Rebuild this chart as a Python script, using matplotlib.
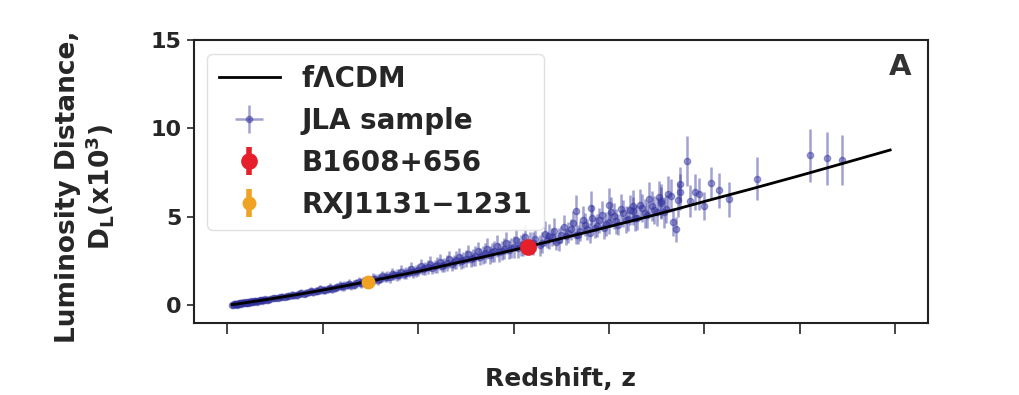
import matplotlib
matplotlib.use("Agg")
from matplotlib import pyplot as plt

# fLCDM curve (z, D_L in 10^3)
model_z = [0.01, 0.05, 0.10, 0.15, 0.20, 0.25, 0.30, 0.35, 0.40, 0.45, 0.50,
           0.55, 0.60, 0.65, 0.70, 0.75, 0.80, 0.85, 0.90, 0.95, 1.00, 1.05,
           1.10, 1.20, 1.30, 1.39]
model_d = [0.04, 0.20, 0.41, 0.63, 0.87, 1.12, 1.38, 1.65, 1.92, 2.22, 2.52,
           2.82, 3.13, 3.45, 3.78, 4.11, 4.45, 4.79, 5.14, 5.50, 5.87, 6.23,
           6.59, 7.33, 8.09, 8.78]

# JLA supernovae (estimated from the plot), first batch
jla_z = [0.010, 0.012, 0.014, 0.016, 0.018, 0.020, 0.022, 0.024, 0.026, 0.028,
         0.030, 0.033, 0.036, 0.040, 0.044, 0.048, 0.052, 0.056, 0.060, 0.065,
         0.070, 0.075, 0.080, 0.090, 0.100,
         0.11, 0.12, 0.13, 0.14, 0.15, 0.16, 0.17, 0.18, 0.19, 0.20,
         0.21, 0.22, 0.23, 0.24, 0.25, 0.26, 0.27, 0.28, 0.29, 0.30,
         0.31, 0.32, 0.33, 0.34, 0.35, 0.36, 0.37, 0.38, 0.39, 0.40,
         0.41, 0.42, 0.43, 0.44, 0.45, 0.46, 0.47, 0.48, 0.49, 0.50,
         0.51, 0.52, 0.53, 0.54, 0.55, 0.56, 0.57, 0.58, 0.59, 0.60,
         0.61, 0.62, 0.64, 0.66,
         0.67, 0.68, 0.69, 0.70, 0.71, 0.72, 0.73, 0.74, 0.75, 0.76,
         0.77, 0.78, 0.79, 0.80, 0.81, 0.82, 0.83, 0.84, 0.85, 0.86,
         0.87, 0.88, 0.89, 0.90, 0.91, 0.92, 0.93, 0.94, 0.95, 0.963,
         0.97, 0.98, 0.99, 1.00, 1.015, 1.03, 1.052, 1.111, 1.222, 1.257,
         1.289, 0.732, 0.763, 0.80, 0.85, 0.91, 0.935, 0.949]
jla_d = [0.04, 0.05, 0.06, 0.07, 0.07, 0.08, 0.09, 0.10, 0.11, 0.11,
         0.12, 0.14, 0.15, 0.16, 0.18, 0.20, 0.21, 0.23, 0.25, 0.26,
         0.29, 0.31, 0.33, 0.37, 0.41,
         0.46, 0.48, 0.55, 0.57, 0.65, 0.66, 0.73, 0.76, 0.84, 0.86,
         0.94, 0.95, 1.05, 1.07, 1.15, 1.14, 1.26, 1.27, 1.35, 1.40,
         1.47, 1.52, 1.60, 1.58, 1.72, 1.74, 1.80, 1.90, 1.88, 2.01,
         2.05, 2.15, 2.10, 2.30, 2.25, 2.40, 2.35, 2.55, 2.50, 2.65,
         2.62, 2.80, 2.75, 2.95, 2.85, 3.05, 3.00, 3.20, 3.15, 3.30,
         3.25, 3.45, 3.50, 3.55,
         3.70, 3.85, 3.60, 4.00, 3.90, 4.30, 3.95, 4.20, 4.55, 4.10,
         4.40, 4.80, 4.35, 4.70, 5.05, 4.55, 5.20, 4.90, 5.35, 4.95,
         5.50, 5.10, 5.60, 5.30, 5.80, 5.45, 6.20, 4.30, 6.84, 8.16,
         5.90, 6.40, 6.28, 5.60, 6.94, 6.50, 6.00, 7.16, 8.48, 8.30,
         8.20, 5.33, 5.52, 5.70, 5.60, 5.90, 4.70, 6.40]
jla_err = [0.08, 0.08, 0.09, 0.09, 0.10, 0.10, 0.10, 0.11, 0.11, 0.11,
           0.12, 0.12, 0.12, 0.13, 0.13, 0.13, 0.14, 0.14, 0.14, 0.15,
           0.15, 0.15, 0.16, 0.16, 0.17,
           0.18, 0.18, 0.19, 0.19, 0.20, 0.20, 0.21, 0.21, 0.22, 0.22,
           0.23, 0.23, 0.24, 0.24, 0.25, 0.25, 0.26, 0.26, 0.27, 0.27,
           0.28, 0.28, 0.29, 0.29, 0.30, 0.30, 0.32, 0.32, 0.34, 0.34,
           0.35, 0.40, 0.35, 0.45, 0.38, 0.45, 0.40, 0.50, 0.42, 0.50,
           0.45, 0.55, 0.48, 0.55, 0.50, 0.60, 0.52, 0.60, 0.55, 0.62,
           0.58, 0.65, 0.65, 0.60,
           0.45, 0.50, 0.45, 0.50, 0.50, 0.60, 0.50, 0.55, 0.65, 0.55,
           0.60, 0.70, 0.60, 0.65, 0.75, 0.60, 0.75, 0.70, 0.80, 0.70,
           0.80, 0.75, 0.85, 0.80, 0.90, 0.80, 0.95, 0.70, 1.00, 1.40,
           0.90, 1.00, 0.90, 0.80, 0.90, 1.00, 1.00, 1.20, 1.50, 1.50,
           1.40, 0.90, 0.95, 0.95, 0.90, 0.95, 0.80, 1.00]

# second batch, filling in the dense band
jla2_z = [0.015, 0.019, 0.025, 0.029, 0.035, 0.038, 0.042, 0.046, 0.050, 0.054,
          0.058, 0.063, 0.068, 0.072, 0.078, 0.085, 0.095, 0.105,
          0.115, 0.125, 0.135, 0.145, 0.155, 0.165, 0.175, 0.185, 0.195, 0.205,
          0.215, 0.225, 0.235, 0.245, 0.255, 0.265, 0.275, 0.285, 0.305, 0.315,
          0.325, 0.335, 0.345, 0.355, 0.365, 0.375, 0.385, 0.395,
          0.405, 0.415, 0.425, 0.435, 0.445, 0.455, 0.465, 0.475, 0.485, 0.495,
          0.505, 0.515, 0.525, 0.535, 0.545, 0.555, 0.565, 0.575, 0.585, 0.595,
          0.605, 0.615, 0.625, 0.635, 0.645, 0.655, 0.665, 0.675, 0.685, 0.695,
          0.705, 0.715, 0.725, 0.735, 0.745, 0.755, 0.765, 0.775, 0.785, 0.795,
          0.805, 0.815, 0.825, 0.835, 0.845, 0.855, 0.865, 0.875, 0.885, 0.895,
          0.905, 0.915, 0.925, 0.945]
jla2_d = [0.09, 0.05, 0.13, 0.09, 0.17, 0.12, 0.19, 0.15, 0.23, 0.18,
          0.26, 0.22, 0.31, 0.26, 0.35, 0.32, 0.42, 0.40,
          0.50, 0.52, 0.60, 0.59, 0.70, 0.69, 0.80, 0.79, 0.90, 0.88,
          1.00, 0.98, 1.12, 1.10, 1.22, 1.18, 1.33, 1.30, 1.52, 1.45,
          1.65, 1.62, 1.78, 1.70, 1.90, 1.82, 2.05, 1.95,
          2.20, 2.10, 2.35, 2.20, 2.45, 2.30, 2.60, 2.45, 2.75, 2.55,
          2.90, 2.70, 3.05, 2.85, 3.20, 3.00, 3.35, 3.10, 3.50, 3.25,
          3.70, 3.40, 3.85, 3.55, 3.75, 3.40, 4.05, 3.90, 4.20, 3.70,
          4.45, 4.10, 4.65, 4.00, 4.85, 4.30, 4.95, 4.50, 5.10, 4.60,
          5.30, 4.75, 5.45, 4.85, 5.40, 4.95, 5.70, 5.20, 6.00, 5.40,
          6.10, 5.25, 6.30, 5.95]
jla2_err = [0.09, 0.09, 0.10, 0.10, 0.11, 0.11, 0.12, 0.12, 0.13, 0.13,
            0.14, 0.14, 0.15, 0.15, 0.15, 0.16, 0.16, 0.17,
            0.20, 0.20, 0.21, 0.21, 0.22, 0.22, 0.23, 0.23, 0.24, 0.24,
            0.25, 0.25, 0.26, 0.26, 0.27, 0.27, 0.28, 0.28, 0.30, 0.30,
            0.32, 0.32, 0.34, 0.33, 0.36, 0.34, 0.38, 0.36,
            0.40, 0.36, 0.42, 0.38, 0.45, 0.40, 0.48, 0.42, 0.50, 0.45,
            0.52, 0.48, 0.55, 0.50, 0.58, 0.52, 0.60, 0.55, 0.62, 0.58,
            0.65, 0.60, 0.68, 0.62, 0.65, 0.60, 0.70, 0.70, 0.75, 0.65,
            0.65, 0.60, 0.70, 0.55, 0.75, 0.60, 0.75, 0.65, 0.80, 0.70,
            0.85, 0.70, 0.85, 0.75, 0.85, 0.75, 0.90, 0.80, 0.95, 0.80,
            0.95, 0.85, 1.00, 0.95]

# lensed systems: lens redshift, distance, error
b1608_z, b1608_d, b1608_err = [0.63], [3.30], [0.20]
rxj_z, rxj_d, rxj_err = [0.295], [1.35], [0.10]

xticks = [0.0, 0.2, 0.4, 0.6, 0.8, 1.0, 1.2, 1.4]
yticks = [0, 5, 10, 15]

plt.rcParams['font.family'] = 'DejaVu Sans'
plt.rcParams['font.weight'] = 'bold'
txt = '#262626'
jla_col = '#30309c'

fig = plt.figure(figsize=(10.19, 3.95), dpi=100)
ax = fig.add_axes([0.190, 0.182, 0.721, 0.717])

ax.plot(model_z, model_d, color='black', lw=2, zorder=3, label='f\u039bCDM')
ax.errorbar(jla_z, jla_d, yerr=jla_err, xerr=0, fmt='o', ms=4.5,
            color=jla_col, alpha=0.45, elinewidth=1.8, capsize=0,
            zorder=2, label='JLA sample')
ax.errorbar(jla2_z, jla2_d, yerr=jla2_err, fmt='o', ms=4.5,
            color=jla_col, alpha=0.45, elinewidth=1.8, capsize=0, zorder=2)
ax.errorbar(b1608_z, b1608_d, yerr=b1608_err, fmt='o', ms=11,
            color='#e5202b', elinewidth=4, capsize=0, zorder=4,
            label='B1608+656')
ax.errorbar(rxj_z, rxj_d, yerr=rxj_err, fmt='o', ms=9,
            color='#f0a322', elinewidth=4, capsize=0, zorder=4,
            label='RXJ1131\u22121231')

ax.set_xlim(-0.071, 1.47)
ax.set_ylim(-1.0, 15.0)
ax.set_xticks(xticks)
ax.set_xticklabels([])
ax.set_yticks(yticks)
ax.tick_params(axis='x', length=8, width=1.2, colors=txt)
ax.tick_params(axis='y', length=5, width=1.2, labelsize=16, colors=txt)
for s in ax.spines.values():
    s.set_linewidth(1.5)
    s.set_color('#222222')

ax.set_xlabel('Redshift, z', fontsize=18, fontweight='bold', color=txt)
ax.xaxis.set_label_coords(0.5, -0.155)
ax.xaxis.label.set_va('top')
ax.set_ylabel('Luminosity Distance,\nD$_{\\bf L}$(x10$^{\\bf 3}$)',
              fontsize=19, fontweight='bold', color=txt, linespacing=1.1)
ax.yaxis.set_label_coords(-0.105, 0.48)

ax.text(0.962, 0.905, 'A', transform=ax.transAxes, fontsize=21,
        fontweight='bold', color='#333333', ha='center', va='center')

leg = ax.legend(loc='upper left', fontsize=20, frameon=True,
                borderaxespad=0.5, handlelength=2.2, handletextpad=0.8,
                labelspacing=0.5, borderpad=0.4,
                edgecolor='#dddddd', framealpha=0.9)
for t in leg.get_texts():
    t.set_color(txt)

fig.savefig('out.png', dpi=100)
